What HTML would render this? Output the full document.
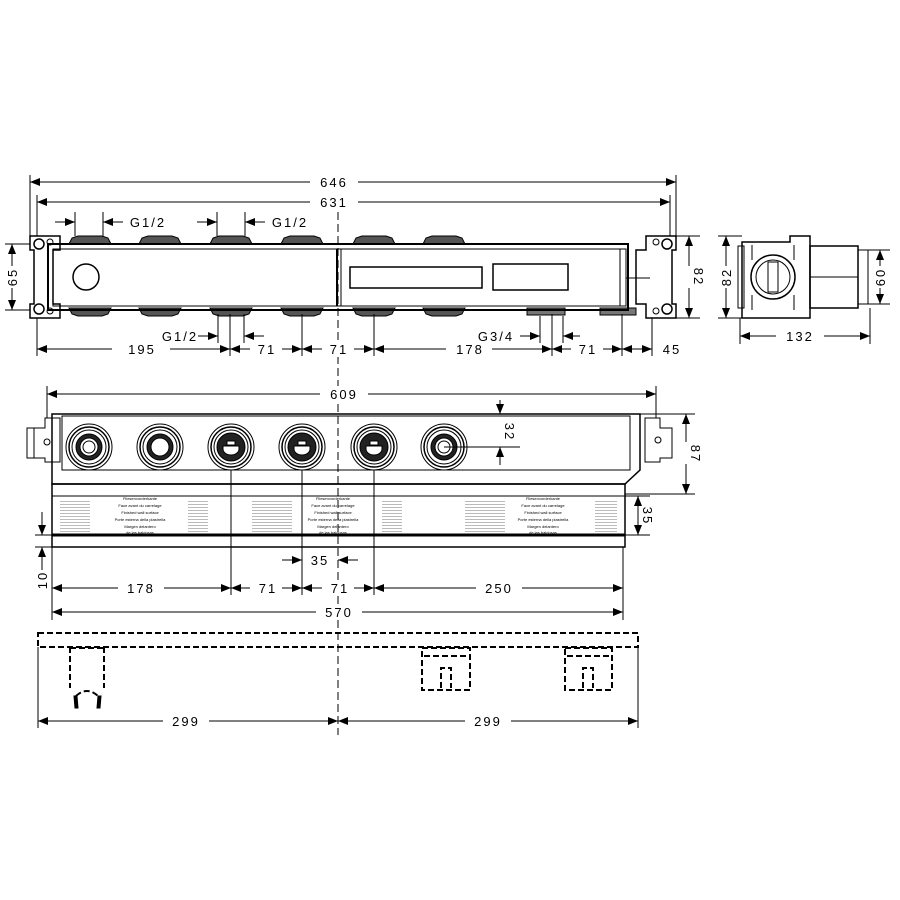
<!DOCTYPE html>
<html><head><style>body{margin:0;background:#fff}svg{display:block}text{font-family:"Liberation Sans",sans-serif;font-size:13px;fill:#000;letter-spacing:2px}.s{font-size:4px;letter-spacing:0}</style></head><body>
<svg width="900" height="900" viewBox="0 0 900 900" xmlns="http://www.w3.org/2000/svg">
<defs>
<marker id="a" viewBox="0 0 10 10" refX="10" refY="5" markerWidth="10" markerHeight="10" markerUnits="userSpaceOnUse" orient="auto-start-reverse"><path d="M0,1L10,5L0,9z"/></marker>
<g id="cap"><path d="M-21,12 L-18,6 L-12,4 L12,4 L18,6 L21,12Z" fill="#555" stroke="#000" stroke-width="1"/></g>
<g id="capb"><path d="M-21,0 L-18,6 L-12,8 L12,8 L18,6 L21,0Z" fill="#555" stroke="#000" stroke-width="1"/></g>
<g id="port"><circle r="23" fill="#fff" stroke="#000" stroke-width="1"/><circle r="20" fill="none" stroke="#000" stroke-width="1.5"/><circle r="17" fill="none" stroke="#000" stroke-width="1"/><circle r="14" fill="#222"/><path d="M-8,-1 h16 v3 a8,6 0 0 1 -16,0z" fill="#fff"/><rect x="-4" y="-6" width="8" height="4" fill="#fff"/></g>
<g id="port2"><circle r="23" fill="#fff" stroke="#000"/><circle r="20" fill="none" stroke="#000" stroke-width="1.5"/><circle r="17" fill="none" stroke="#000"/><circle r="13" fill="#222"/><circle r="9" fill="#fff" stroke="#000"/><circle r="6" fill="none" stroke="#000"/></g>
<pattern id="txt" width="3" height="3" patternUnits="userSpaceOnUse"><rect width="3" height="1" fill="#aaa"/></pattern>
</defs>
<g stroke="#000" fill="none" stroke-width="1">
<line x1="338" y1="200" x2="338" y2="735" stroke-dasharray="8,4"/>
<!-- TOP VIEW -->
<line x1="30" y1="175" x2="30" y2="236"/><line x1="676" y1="175" x2="676" y2="236"/>
<line x1="37" y1="195" x2="37" y2="236"/><line x1="670" y1="195" x2="670" y2="236"/>
<line x1="30" y1="182" x2="676" y2="182" marker-start="url(#a)" marker-end="url(#a)"/>
<line x1="37" y1="202" x2="670" y2="202" marker-start="url(#a)" marker-end="url(#a)"/>
<line x1="55" y1="222" x2="75" y2="222" marker-end="url(#a)"/><line x1="123" y1="222" x2="103" y2="222" marker-end="url(#a)"/>
<line x1="75" y1="212" x2="75" y2="236"/><line x1="103" y1="212" x2="103" y2="236"/>
<line x1="197" y1="222" x2="217" y2="222" marker-end="url(#a)"/><line x1="265" y1="222" x2="245" y2="222" marker-end="url(#a)"/>
<line x1="217" y1="212" x2="217" y2="236"/><line x1="245" y1="212" x2="245" y2="236"/>
<use href="#cap" x="90" y="232"/><use href="#cap" x="160" y="232"/><use href="#cap" x="231" y="232"/><use href="#cap" x="302" y="232"/><use href="#cap" x="374" y="232"/><use href="#cap" x="444" y="232"/>
<use href="#capb" x="90" y="308"/><use href="#capb" x="160" y="308"/><use href="#capb" x="231" y="308"/><use href="#capb" x="302" y="308"/><use href="#capb" x="374" y="308"/><use href="#capb" x="444" y="308"/>
<rect x="527" y="308" width="38" height="7" fill="#777"/><rect x="600" y="308" width="36" height="7" fill="#777"/>
<rect x="48" y="244" width="580" height="66" stroke-width="2"/>
<rect x="53" y="249" width="573" height="57" stroke-width="1"/>
<line x1="337" y1="249" x2="337" y2="306" stroke-width="2"/><line x1="341" y1="249" x2="341" y2="306"/>
<circle cx="86" cy="277" r="13" stroke-width="1.5"/>
<rect x="350" y="267" width="132" height="21" stroke-width="1.5"/><rect x="493" y="264" width="75" height="26" stroke-width="1.5"/>
<line x1="620" y1="249" x2="620" y2="306"/><line x1="626" y1="278" x2="650" y2="278"/>
<path d="M30,236 H60 V250 H53 V304 H60 V318 H30 V304 H34 V250 H30 Z" stroke-width="1.5"/>
<circle cx="39" cy="244" r="5" stroke-width="1.5"/><circle cx="50" cy="242" r="3"/><circle cx="39" cy="309" r="5" stroke-width="1.5"/><circle cx="50" cy="311" r="3"/>
<path d="M676,236 H646 V250 H636 V304 H646 V318 H676 V304 H672 V250 H676 Z" stroke-width="1.5"/>
<circle cx="667" cy="244" r="5" stroke-width="1.5"/><circle cx="656" cy="242" r="3"/><circle cx="667" cy="309" r="5" stroke-width="1.5"/><circle cx="656" cy="311" r="3"/>
<line x1="5" y1="244" x2="30" y2="244"/><line x1="5" y1="310" x2="30" y2="310"/>
<line x1="12" y1="244" x2="12" y2="310" marker-start="url(#a)" marker-end="url(#a)"/>
<line x1="676" y1="236" x2="700" y2="236"/><line x1="676" y1="318" x2="700" y2="318"/>
<line x1="689" y1="236" x2="689" y2="318" marker-start="url(#a)" marker-end="url(#a)"/>
<line x1="37" y1="318" x2="37" y2="356"/><line x1="230" y1="314" x2="230" y2="356"/><line x1="302" y1="314" x2="302" y2="356"/><line x1="374" y1="314" x2="374" y2="356"/><line x1="552" y1="314" x2="552" y2="356"/><line x1="622" y1="314" x2="622" y2="356"/><line x1="652" y1="318" x2="652" y2="356"/>
<line x1="218" y1="314" x2="218" y2="343"/><line x1="244" y1="314" x2="244" y2="343"/>
<line x1="198" y1="336" x2="218" y2="336" marker-end="url(#a)"/><line x1="264" y1="336" x2="244" y2="336" marker-end="url(#a)"/>
<line x1="540" y1="316" x2="540" y2="343"/><line x1="563" y1="316" x2="563" y2="343"/>
<line x1="520" y1="336" x2="540" y2="336" marker-end="url(#a)"/><line x1="580" y1="336" x2="563" y2="336" marker-end="url(#a)"/>
<line x1="37" y1="349" x2="230" y2="349" marker-start="url(#a)" marker-end="url(#a)"/>
<line x1="230" y1="349" x2="302" y2="349" marker-start="url(#a)" marker-end="url(#a)"/>
<line x1="302" y1="349" x2="374" y2="349" marker-start="url(#a)" marker-end="url(#a)"/>
<line x1="374" y1="349" x2="552" y2="349" marker-start="url(#a)" marker-end="url(#a)"/>
<line x1="552" y1="349" x2="622" y2="349" marker-start="url(#a)" marker-end="url(#a)"/>
<line x1="622" y1="349" x2="652" y2="349" marker-start="url(#a)" marker-end="url(#a)"/>
<!-- SIDE VIEW -->
<path d="M742,242 H790 V236 H810 V318 H790 H742 Z" stroke-width="1.5"/>
<rect x="738" y="246" width="6" height="62"/>
<rect x="810" y="246" width="48" height="62" stroke-width="1.5"/><line x1="810" y1="277" x2="858" y2="277"/>
<rect x="858" y="250" width="10" height="54"/>
<circle cx="773" cy="277" r="22" stroke-width="1.5"/><circle cx="773" cy="277" r="17"/>
<rect x="768" y="262" width="10" height="30" fill="#fff"/>
<path d="M752,245 V260 M794,245 V260 M752,295 V310 M794,295 V310"/>
<line x1="718" y1="236" x2="742" y2="236"/><line x1="718" y1="318" x2="742" y2="318"/>
<line x1="726" y1="236" x2="726" y2="318" marker-start="url(#a)" marker-end="url(#a)"/>
<line x1="868" y1="250" x2="890" y2="250"/><line x1="868" y1="304" x2="890" y2="304"/>
<line x1="880" y1="250" x2="880" y2="304" marker-start="url(#a)" marker-end="url(#a)"/>
<line x1="740" y1="318" x2="740" y2="344"/><line x1="870" y1="308" x2="870" y2="344"/>
<line x1="740" y1="336" x2="870" y2="336" marker-start="url(#a)" marker-end="url(#a)"/>
<!-- FRONT VIEW -->
<line x1="47" y1="386" x2="47" y2="418"/><line x1="656" y1="386" x2="656" y2="418"/>
<line x1="47" y1="394" x2="656" y2="394" marker-start="url(#a)" marker-end="url(#a)"/>
<path d="M52,414 H640 V470 L625,484 H52 Z" stroke-width="1.5"/>
<rect x="62" y="416" width="568" height="54"/>
<path d="M27,428 H45 V418 H60 V462 H45 V458 H27 Z M34,428 V458 M645,418 H660 V428 H672 V458 H660 V462 H645 Z"/>
<circle cx="47" cy="442" r="3"/><circle cx="658" cy="440" r="3"/>
<use href="#port2" x="89" y="447"/>
<g transform="translate(160,447)"><circle r="23" fill="#fff" stroke="#000"/><circle r="20" stroke-width="1.5"/><circle r="17"/><circle r="13" fill="#222"/><circle r="9" fill="#fff"/></g>
<use href="#port" x="231" y="447"/><use href="#port" x="302" y="447"/><use href="#port" x="374" y="447"/>
<use href="#port2" x="444" y="447"/>
<line x1="444" y1="447" x2="520" y2="447"/>
<line x1="500" y1="400" x2="500" y2="414" marker-end="url(#a)"/><line x1="500" y1="465" x2="500" y2="447" marker-end="url(#a)"/>
<line x1="640" y1="414" x2="695" y2="414"/><line x1="625" y1="494" x2="695" y2="494"/>
<line x1="686" y1="414" x2="686" y2="494" marker-start="url(#a)" marker-end="url(#a)"/>
<rect x="52" y="484" width="573" height="63" stroke-width="1.5"/>
<line x1="52" y1="496" x2="625" y2="496"/>
<line x1="52" y1="535" x2="625" y2="535" stroke-width="3"/>
<line x1="625" y1="496" x2="650" y2="496"/><line x1="625" y1="535" x2="650" y2="535"/>
<line x1="638" y1="496" x2="638" y2="535" marker-start="url(#a)" marker-end="url(#a)"/>
<line x1="35" y1="535" x2="52" y2="535"/><line x1="35" y1="547" x2="52" y2="547"/>
<line x1="42" y1="512" x2="42" y2="535" marker-end="url(#a)"/><line x1="42" y1="570" x2="42" y2="547" marker-end="url(#a)"/>
<line x1="231" y1="470" x2="231" y2="595"/><line x1="302" y1="470" x2="302" y2="595"/><line x1="374" y1="470" x2="374" y2="595"/>
<line x1="52" y1="547" x2="52" y2="620"/><line x1="623" y1="547" x2="623" y2="620"/>
<line x1="282" y1="560" x2="302" y2="560" marker-end="url(#a)"/><line x1="358" y1="560" x2="338" y2="560" marker-end="url(#a)"/>
<line x1="52" y1="588" x2="231" y2="588" marker-start="url(#a)" marker-end="url(#a)"/>
<line x1="231" y1="588" x2="302" y2="588" marker-start="url(#a)" marker-end="url(#a)"/>
<line x1="302" y1="588" x2="374" y2="588" marker-start="url(#a)" marker-end="url(#a)"/>
<line x1="374" y1="588" x2="623" y2="588" marker-start="url(#a)" marker-end="url(#a)"/>
<line x1="52" y1="612" x2="623" y2="612" marker-start="url(#a)" marker-end="url(#a)"/>
<!-- BOTTOM VIEW -->
<g stroke-dasharray="6,3" stroke-width="2">
<rect x="38" y="633" width="600" height="14"/>
<path d="M70,647 V688 M104,647 V688 M70,648 H104"/>
<path d="M76,696 Q87,686 98,696"/>
<rect x="422" y="648" width="48" height="42"/><line x1="424" y1="656" x2="468" y2="656"/>
<path d="M441,688 V668 H451 V688"/>
<rect x="565" y="648" width="47" height="42"/><line x1="567" y1="656" x2="610" y2="656"/>
<path d="M583,688 V668 H593 V688"/>
</g>
<path d="M74,696 l3,0 l1,12 l-3,0z M98,696 l3,0 l-1,12 l-3,0z" fill="#000"/>
<line x1="38" y1="647" x2="38" y2="728"/><line x1="638" y1="647" x2="638" y2="728"/>
<line x1="38" y1="721" x2="338" y2="721" marker-start="url(#a)" marker-end="url(#a)"/>
<line x1="338" y1="721" x2="638" y2="721" marker-start="url(#a)" marker-end="url(#a)"/>
</g>
<g fill="url(#txt)" opacity=".8"><rect x="60" y="500" width="30" height="32" transform=""/><rect x="188" y="500" width="20" height="32"/><rect x="252" y="500" width="40" height="32"/><rect x="382" y="500" width="20" height="32"/><rect x="465" y="500" width="40" height="32"/><rect x="595" y="500" width="22" height="32"/></g>
<g text-anchor="middle">
<text x="140" y="500" class="s">Fliesenvorderkante</text><text x="140" y="507" class="s">Face avant du carrelage</text><text x="140" y="514" class="s">Finished wall surface</text><text x="140" y="521" class="s">Porte esterna della piastrella</text><text x="140" y="528" class="s">Margen delantero</text><text x="140" y="534" class="s">de las baldosas</text>
<text x="333" y="500" class="s">Fliesenvorderkante</text><text x="333" y="507" class="s">Face avant du carrelage</text><text x="333" y="514" class="s">Finished wall surface</text><text x="333" y="521" class="s">Porte esterna della piastrella</text><text x="333" y="528" class="s">Margen delantero</text><text x="333" y="534" class="s">de las baldosas</text>
<text x="543" y="500" class="s">Fliesenvorderkante</text><text x="543" y="507" class="s">Face avant du carrelage</text><text x="543" y="514" class="s">Finished wall surface</text><text x="543" y="521" class="s">Porte esterna della piastrella</text><text x="543" y="528" class="s">Margen delantero</text><text x="543" y="534" class="s">de las baldosas</text>
</g>
<g text-anchor="middle">
<rect x="310" y="174" width="48" height="16" fill="#fff"/><text x="334" y="187">646</text>
<rect x="310" y="194" width="48" height="16" fill="#fff"/><text x="334" y="207">631</text>
<text x="148" y="227">G1/2</text><text x="290" y="227">G1/2</text>
<text x="180" y="341">G1/2</text><text x="496" y="341">G3/4</text>
<rect x="112" y="341" width="58" height="16" fill="#fff"/><text x="142" y="354">195</text>
<rect x="250" y="341" width="32" height="16" fill="#fff"/><text x="267" y="354">71</text>
<rect x="322" y="341" width="32" height="16" fill="#fff"/><text x="339" y="354">71</text>
<rect x="446" y="341" width="46" height="16" fill="#fff"/><text x="470" y="354">178</text>
<rect x="571" y="341" width="32" height="16" fill="#fff"/><text x="588" y="354">71</text>
<text x="672" y="354">45</text>
<rect x="776" y="328" width="48" height="16" fill="#fff"/><text x="800" y="341">132</text>
<rect x="320" y="386" width="48" height="16" fill="#fff"/><text x="344" y="399">609</text>
<text x="320" y="565">35</text>
<rect x="118" y="580" width="46" height="16" fill="#fff"/><text x="141" y="593">178</text>
<rect x="250" y="580" width="32" height="16" fill="#fff"/><text x="268" y="593">71</text>
<rect x="322" y="580" width="32" height="16" fill="#fff"/><text x="340" y="593">71</text>
<rect x="476" y="580" width="46" height="16" fill="#fff"/><text x="499" y="593">250</text>
<rect x="316" y="604" width="46" height="16" fill="#fff"/><text x="339" y="617">570</text>
<rect x="163" y="713" width="46" height="16" fill="#fff"/><text x="186" y="726">299</text>
<rect x="465" y="713" width="46" height="16" fill="#fff"/><text x="488" y="726">299</text>
</g>
<g text-anchor="middle">
<rect x="4" y="266" width="16" height="22" fill="#fff"/><text transform="translate(17,277) rotate(-90)">65</text>
<rect x="681" y="266" width="16" height="22" fill="#fff"/><text transform="translate(694,277) rotate(90)">82</text>
<rect x="718" y="266" width="16" height="22" fill="#fff"/><text transform="translate(731,277) rotate(-90)">82</text>
<rect x="872" y="266" width="16" height="22" fill="#fff"/><text transform="translate(885,277) rotate(-90)">60</text>
<text transform="translate(505,432) rotate(90)">32</text>
<rect x="678" y="442" width="16" height="22" fill="#fff"/><text transform="translate(691,454) rotate(90)">87</text>
<text transform="translate(643,516) rotate(90)">35</text>
<text transform="translate(47,580) rotate(-90)">10</text>
</g>
</svg>
</body></html>
